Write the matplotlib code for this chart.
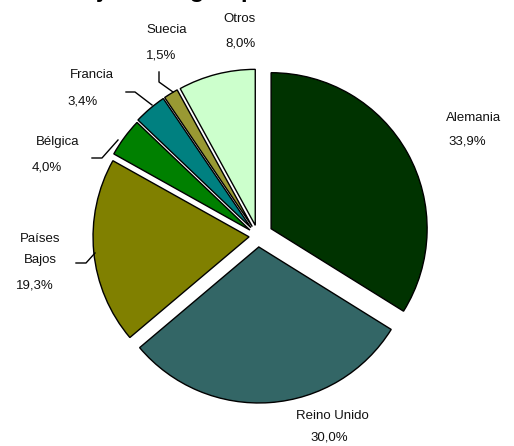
import matplotlib.pyplot as plt

# data
countries = ['Alemania', 'Reino Unido', 'Países\nBajos', 'Bélgica', 'Francia', 'Suecia', 'Otros']
shares = [33.9, 30.0, 19.3, 4.0, 3.4, 1.5, 8.0]
pct_labels = ['33,9%', '30,0%', '19,3%', '4,0%', '3,4%', '1,5%', '8,0%']

colors = ['#003300', '#336666', '#808000', '#008000', '#008080', '#999933', '#CCFFCC']
# offsets in pixels (axes are in pixel units)
explode = [15, 11, 9, 10, 11, 11, 11]

plt.rcParams['font.family'] = ['Liberation Sans', 'DejaVu Sans']

fig = plt.figure(figsize=(5.14, 4.46), dpi=100)
ax = fig.add_axes([0, 0, 1, 1])

ax.pie(shares, colors=colors, explode=explode, startangle=90, counterclock=False,
       center=(258, 210), radius=156,
       wedgeprops=dict(edgecolor='black', linewidth=1.0))
ax.set_xlim(0, 514)
ax.set_ylim(0, 446)
ax.set_aspect('equal')
ax.axis('off')

# title, mostly cut off by the top edge
ax.text(251, 448.5, 'Extranjeros según procedencia en 2004', ha='center', va='baseline',
        fontsize=17.5, fontweight='bold', color='black')

# label positions (pixels from top-left) for name / percent
label_pos = {
    'Alemania': ((474, 118), (467, 142)),
    'Reino Unido': ((332, 416), (329, 437)),
    'Países\nBajos': ((40, 249), (35, 285)),
    'Bélgica': ((58, 142), (47, 167)),
    'Francia': ((92, 75), (83, 101)),
    'Suecia': ((167, 30), (161, 56)),
    'Otros': ((240, 19), (240, 43)),
}
for name, pct in zip(countries, pct_labels):
    (nx, ny), (px, py) = label_pos[name]
    ax.text(nx, 446 - ny, name, ha='center', va='center', fontsize=9.5,
            color='#111111', linespacing=2.0)
    ax.text(px, 446 - py, pct, ha='center', va='center', fontsize=9.5, color='#111111')

# leader lines
leaders = [
    [(159, 72), (159, 82), (173, 92)],
    [(126, 92), (135, 92), (152, 105)],
    [(92, 158), (102, 158), (118, 140)],
    [(76, 263), (86, 263), (95, 253)],
]
for pts in leaders:
    xs = [p[0] for p in pts]
    ys = [446 - p[1] for p in pts]
    ax.plot(xs, ys, color='black', linewidth=1.0)

fig.savefig('out.png', dpi=100)
